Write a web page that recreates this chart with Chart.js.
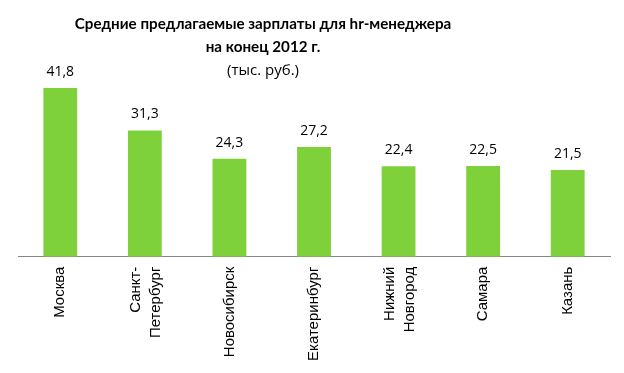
<!DOCTYPE html>
<html>
<head>
<meta charset="utf-8">
<script src="https://cdn.jsdelivr.net/npm/chart.js@4"></script>
<style>
html,body{margin:0;padding:0;background:#fff;}
#wrap{width:624px;height:373px;}
</style>
</head>
<body>
<div id="wrap"><canvas id="c" width="624" height="373"></canvas></div>
<script>
const categories = ["Москва", ["Санкт-", "Петербург"], "Новосибирск", "Екатеринбург", ["Нижний", "Новгород"], "Самара", "Казань"];
const salaries = [41.8, 31.3, 24.3, 27.2, 22.4, 22.5, 21.5];
const titleLines = ["Средние предлагаемые зарплаты для hr-менеджера", "на конец 2012 г."];
const subtitleText = "(тыс. руб.)";

const TICK_LH = 19.5;
const TICK_SHIFT = 8.5;

const titleBlock = {
  id: 'titleBlock',
  afterDraw(chart) {
    const ctx = chart.ctx;
    ctx.save();
    ctx.fillStyle = '#000';
    ctx.textAlign = 'center';
    ctx.textBaseline = 'alphabetic';
    ctx.font = 'bold 15.2px Lato';
    ctx.fillText(titleLines[0], 263, 29);
    ctx.fillText(titleLines[1], 263, 52);
    ctx.font = '15px "Open Sans"';
    ctx.fillText(subtitleText, 263, 75);
    ctx.restore();
  }
};

const valueLabels = {
  id: 'valueLabels',
  afterDatasetsDraw(chart) {
    const ctx = chart.ctx;
    const meta = chart.getDatasetMeta(0);
    ctx.save();
    ctx.font = '14px "Open Sans"';
    ctx.fillStyle = '#000';
    ctx.textAlign = 'center';
    ctx.textBaseline = 'middle';
    meta.data.forEach((bar, i) => {
      ctx.fillText(salaries[i].toFixed(1).replace('.', ','), bar.x, bar.y - 16);
    });
    ctx.restore();
  }
};

new Chart(document.getElementById('c'), {
  type: 'bar',
  data: {
    labels: categories,
    datasets: [{
      data: salaries,
      backgroundColor: '#7FD13B',
      borderWidth: 0,
      barPercentage: 0.4,
      categoryPercentage: 1.0
    }]
  },
  options: {
    responsive: false,
    animation: false,
    devicePixelRatio: 1,
    layout: { padding: { left: 18, right: 14, top: 82, bottom: 2 } },
    plugins: {
      legend: { display: false },
      tooltip: { enabled: false },
      title: { display: false }
    },
    scales: {
      x: {
        grid: { display: false, drawTicks: false },
        border: { display: true, color: '#868686', width: 1 },
        ticks: {
          color: '#000',
          font: { family: 'Liberation Sans', size: 15, lineHeight: TICK_LH / 15 },
          minRotation: 90,
          maxRotation: 90,
          padding: 10
        },
        afterUpdate(scale) {
          const proto = Object.getPrototypeOf(scale);
          scale._computeLabelItems = function (ca) {
            const items = proto._computeLabelItems.call(this, ca);
            items.forEach(it => {
              const n = Array.isArray(it.label) ? it.label.length : 1;
              if (n > 1) it.options.translation[0] -= (n - 1) * TICK_SHIFT;
            });
            return items;
          };
        }
      },
      y: {
        display: false,
        min: 0,
        max: 43.3
      }
    }
  },
  plugins: [valueLabels, titleBlock]
});
</script>
</body>
</html>
